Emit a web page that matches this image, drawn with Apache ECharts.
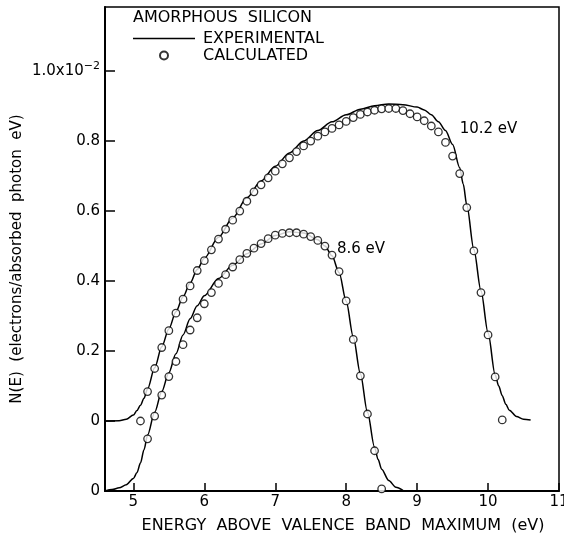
<!DOCTYPE html>
<html>
<head>
<meta charset="utf-8">
<script src="https://cdn.jsdelivr.net/npm/echarts@6/dist/echarts.min.js"></script>
<style>
  html, body { margin: 0; padding: 0; background: #fff; }
  #chart { width: 564px; height: 533px; }
</style>
</head>
<body>
<div id="chart"></div>
<script>
// Photoemission yield N(E) of amorphous silicon, two photon energies.
// Values in units of 1e-2 electrons / absorbed photon eV.
// The 8.6 eV curve is drawn on its own baseline, one tick (0.2) below the 10.2 eV baseline.

// 10.2 eV – experimental curve
const exp102E = [4.6, 4.8, 4.9, 5.0, 5.05, 5.1, 5.15, 5.2, 5.3, 5.4, 5.5, 5.6, 5.7, 5.8, 5.9, 6.0,
  6.2, 6.4, 6.6, 6.8, 7.0, 7.2, 7.4, 7.6, 7.8, 8.0, 8.2, 8.4, 8.6, 8.8, 9.0, 9.1, 9.2, 9.3, 9.4,
  9.5, 9.6, 9.65, 9.7, 9.8, 9.9, 10.0, 10.1, 10.15, 10.2, 10.25, 10.3, 10.4, 10.5, 10.6];
const exp102N = [0, 0.001, 0.005, 0.017, 0.03, 0.045, 0.065, 0.092, 0.152, 0.212, 0.263, 0.312, 0.355, 0.394, 0.433, 0.465,
  0.525, 0.58, 0.638, 0.686, 0.728, 0.766, 0.8, 0.83, 0.855, 0.875, 0.891, 0.901, 0.906, 0.904, 0.897, 0.889, 0.875, 0.855, 0.83,
  0.79, 0.724, 0.677, 0.617, 0.49, 0.372, 0.252, 0.132, 0.1, 0.072, 0.048, 0.031, 0.013, 0.005, 0.003];

// 10.2 eV – calculated points
const calc102E = [5.1, 5.2, 5.3, 5.4, 5.5, 5.6, 5.7, 5.8, 5.9, 6.0, 6.1, 6.2, 6.3, 6.4, 6.5, 6.6, 6.7, 6.8,
  6.9, 7.0, 7.1, 7.2, 7.3, 7.4, 7.5, 7.6, 7.7, 7.8, 7.9, 8.0, 8.1, 8.2, 8.3, 8.4, 8.5, 8.6, 8.7, 8.8,
  8.9, 9.0, 9.1, 9.2, 9.3, 9.4, 9.5, 9.6, 9.7, 9.8, 9.9, 10.0, 10.1, 10.2];
const calc102N = [0.0, 0.084, 0.15, 0.21, 0.258, 0.308, 0.348, 0.386, 0.43, 0.458, 0.489, 0.52, 0.548, 0.574, 0.6, 0.628, 0.655, 0.675,
  0.695, 0.714, 0.735, 0.752, 0.77, 0.786, 0.8, 0.814, 0.826, 0.836, 0.846, 0.856, 0.867, 0.876, 0.883, 0.888, 0.892, 0.893, 0.893, 0.887,
  0.878, 0.869, 0.858, 0.843, 0.826, 0.796, 0.757, 0.707, 0.61, 0.486, 0.367, 0.246, 0.126, 0.003];

// 8.6 eV – experimental curve (relative to its own baseline)
const exp86E = [4.6, 4.7, 4.8, 4.9, 5.0, 5.05, 5.1, 5.15, 5.2, 5.3, 5.4, 5.5, 5.6, 5.7, 5.8, 5.9, 6.0,
  6.2, 6.4, 6.6, 6.8, 7.0, 7.2, 7.4, 7.6, 7.7, 7.8, 7.9, 8.0, 8.1, 8.2, 8.3, 8.4, 8.45, 8.5, 8.6, 8.7, 8.8];
const exp86N = [0, 0.004, 0.009, 0.018, 0.036, 0.052, 0.08, 0.118, 0.16, 0.225, 0.284, 0.338, 0.392, 0.446, 0.492, 0.529, 0.558,
  0.607, 0.645, 0.678, 0.706, 0.73, 0.741, 0.737, 0.718, 0.7, 0.672, 0.624, 0.542, 0.44, 0.335, 0.225, 0.125, 0.09, 0.062, 0.03, 0.011, 0.002];

// 8.6 eV – calculated points (relative to its own baseline)
const calc86E = [5.2, 5.3, 5.4, 5.5, 5.6, 5.7, 5.8, 5.9, 6.0, 6.1, 6.2, 6.3, 6.4, 6.5, 6.6, 6.7, 6.8,
  6.9, 7.0, 7.1, 7.2, 7.3, 7.4, 7.5, 7.6, 7.7, 7.8, 7.9, 8.0, 8.1, 8.2, 8.3, 8.4, 8.5];
const calc86N = [0.149, 0.214, 0.274, 0.327, 0.37, 0.418, 0.46, 0.495, 0.535, 0.567, 0.593, 0.618, 0.64, 0.661, 0.679, 0.694, 0.707,
  0.721, 0.731, 0.736, 0.738, 0.738, 0.734, 0.727, 0.716, 0.7, 0.674, 0.627, 0.543, 0.433, 0.329, 0.22, 0.115, 0.006];

// baseline shift of the 8.6 eV curve on the shared axis
const offset86 = -0.2;

// axis ticks and their labels
const xTickValues = [5, 6, 7, 8, 9, 10, 11];
const yTickValues = [-0.2, 0, 0.2, 0.4, 0.6, 0.8, 1.0];
const yTickLabels = ['0', '0', '0.2', '0.4', '0.6', '0.8', '{m|1.0x10}{s|\u22122}'];

const FONT = '"DejaVu Sans", "Liberation Sans", sans-serif';

function pairs(xs, ys, shift) {
  return xs.map((x, i) => [x, ys[i] + (shift || 0)]);
}

const chart = echarts.init(document.getElementById('chart'), null, { renderer: 'canvas' });

const lineStyle = { color: '#000', width: 1.5 };
const dotStyle = { color: '#fff', borderColor: '#000', borderWidth: 1.3 };

chart.setOption({
  animation: false,
  backgroundColor: '#fff',
  title: {
    text: 'AMORPHOUS  SILICON',
    left: 133,
    top: 10,
    padding: 0,
    textStyle: { fontFamily: FONT, fontSize: 16, fontWeight: 'normal', color: '#000' }
  },
  legend: {
    orient: 'vertical',
    left: 133,
    top: 30,
    padding: 0,
    itemGap: 0,
    itemWidth: 62,
    itemHeight: 8,
    selectedMode: false,
    data: [
      { name: 'EXPERIMENTAL', icon: 'path://M0 0H62V1.5H0Z', itemStyle: { color: '#000' } },
      { name: 'CALCULATED' }
    ],
    textStyle: { fontFamily: FONT, fontSize: 16, color: '#000', lineHeight: 17, padding: [0, 0, 0, 3] }
  },
  grid: {
    left: 105, right: 5, top: 7, bottom: 42,
    outerBoundsMode: 'none',
    show: true, borderColor: '#000', borderWidth: 1.5, backgroundColor: 'transparent'
  },
  xAxis: {
    type: 'value',
    min: 4.6, max: 11,
    name: 'ENERGY  ABOVE  VALENCE  BAND  MAXIMUM  (eV)',
    nameLocation: 'middle',
    nameGap: 27,
    nameMoveOverlap: false,
    nameTextStyle: { fontFamily: FONT, fontSize: 16, color: '#000', padding: [0, 0, 0, 22] },
    axisLine: { show: true, onZero: false, lineStyle: { color: '#000', width: 2 } },
    axisTick: { show: true, inside: true, length: 8, lineStyle: { color: '#000', width: 1.5 }, customValues: xTickValues },
    axisLabel: { fontFamily: FONT, fontSize: 15, color: '#000', margin: 4, customValues: xTickValues },
    splitLine: { show: false }
  },
  yAxis: {
    type: 'value',
    min: -0.2, max: 1.183,
    name: 'N(E)  (electrons/absorbed  photon  eV)',
    nameLocation: 'middle',
    nameRotate: 90,
    nameGap: 80,
    nameMoveOverlap: false,
    nameTextStyle: { fontFamily: FONT, fontSize: 15, color: '#000', padding: [0, 20, 0, 0] },
    axisLine: { show: true, onZero: false, lineStyle: { color: '#000', width: 2 } },
    axisTick: { show: true, inside: true, length: 10, lineStyle: { color: '#000', width: 1.5 }, customValues: yTickValues },
    axisLabel: {
      fontFamily: FONT, fontSize: 15, color: '#000', margin: 5,
      customValues: yTickValues,
      formatter: function (v) {
        const i = yTickValues.findIndex(t => Math.abs(t - v) < 1e-6);
        return i >= 0 ? yTickLabels[i] : '';
      },
      rich: {
        m: { fontFamily: FONT, fontSize: 15, color: '#000', lineHeight: 20 },
        s: { fontFamily: FONT, fontSize: 11, color: '#000', lineHeight: 10, verticalAlign: 'top' }
      }
    },
    splitLine: { show: false }
  },
  series: [
    {
      name: 'EXPERIMENTAL', type: 'line', symbol: 'none', smooth: 0.3, smoothMonotone: 'x',
      lineStyle: lineStyle, itemStyle: { color: '#000' }, z: 2,
      data: pairs(exp102E, exp102N),
      markPoint: {
        symbol: 'circle', symbolSize: 0, silent: true,
        label: { show: true, position: 'right', distance: 0, fontFamily: FONT, fontSize: 15, color: '#000' },
        data: [{ coord: [9.6, 0.833], value: 0, label: { formatter: '10.2 eV' } }]
      }
    },
    {
      name: 'EXPERIMENTAL', type: 'line', symbol: 'none', smooth: 0.3, smoothMonotone: 'x',
      lineStyle: lineStyle, itemStyle: { color: '#000' }, z: 2,
      data: pairs(exp86E, exp86N, offset86),
      markPoint: {
        symbol: 'circle', symbolSize: 0, silent: true,
        label: { show: true, position: 'right', distance: 0, fontFamily: FONT, fontSize: 15, color: '#000' },
        data: [{ coord: [7.87, 0.691 + offset86], value: 0, label: { formatter: '8.6 eV' } }]
      }
    },
    {
      name: 'CALCULATED', type: 'scatter', symbol: 'circle', symbolSize: 7.5,
      itemStyle: dotStyle, z: 3,
      data: pairs(calc102E, calc102N)
    },
    {
      name: 'CALCULATED', type: 'scatter', symbol: 'circle', symbolSize: 7.5,
      itemStyle: dotStyle, z: 3,
      data: pairs(calc86E, calc86N, offset86)
    }
  ]
});
</script>
</body>
</html>
